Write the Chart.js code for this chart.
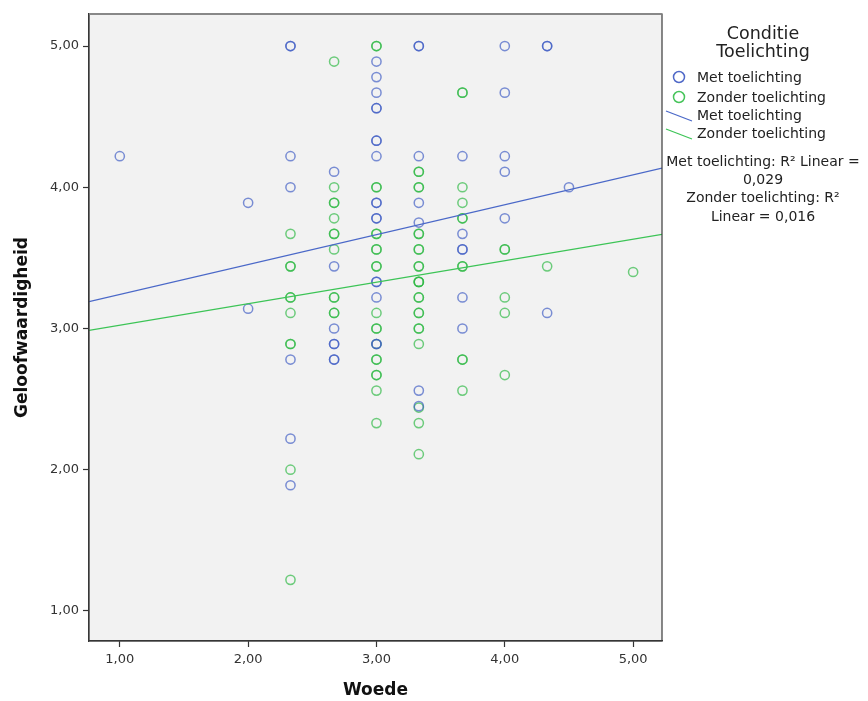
<!DOCTYPE html>
<html>
<head>
<meta charset="utf-8">
<script src="https://cdn.jsdelivr.net/npm/chart.js@4/dist/chart.umd.min.js"></script>
<style>
html,body{margin:0;padding:0;background:#fff;}
canvas{display:block;}
</style>
</head>
<body>
<canvas id="c" width="868" height="701"></canvas>
<script>
// ---- data ----
const seriesNames = ['Met toelichting', 'Zonder toelichting'];
const r2Values = ['0,029', '0,016'];
const xTicks = [1, 2, 3, 4, 5];
const yTicks = [1, 2, 3, 4, 5];

const metX = [1.00, 2.00, 2.00,
  2.33, 2.33, 2.33, 2.33, 2.33, 2.33, 2.33,
  2.67, 2.67, 2.67, 2.67, 2.67, 2.67, 2.67,
  3.00, 3.00, 3.00, 3.00, 3.00, 3.00, 3.00, 3.00, 3.00, 3.00, 3.00, 3.00, 3.00, 3.00, 3.00, 3.00, 3.00,
  3.33, 3.33, 3.33, 3.33, 3.33, 3.33, 3.33,
  3.67, 3.67, 3.67, 3.67, 3.67, 3.67,
  4.00, 4.00, 4.00, 4.00, 4.00,
  4.33, 4.33, 4.33,
  4.50];
const metY = [4.22, 3.89, 3.14,
  5.00, 5.00, 4.22, 4.00, 2.78, 2.22, 1.89,
  4.11, 3.44, 3.00, 2.89, 2.89, 2.78, 2.78,
  4.89, 4.78, 4.67, 4.56, 4.56, 4.33, 4.33, 4.22, 3.89, 3.89, 3.78, 3.78, 3.33, 3.33, 3.22, 2.89, 2.89,
  5.00, 5.00, 4.22, 3.89, 3.75, 2.56, 2.45,
  4.22, 3.67, 3.56, 3.56, 3.22, 3.00,
  5.00, 4.67, 4.22, 4.11, 3.78,
  5.00, 5.00, 3.11,
  4.00];

const zonderX = [
  2.33, 2.33, 2.33, 2.33, 2.33, 2.33, 2.33, 2.33, 2.33, 2.33,
  2.67, 2.67, 2.67, 2.67, 2.67, 2.67, 2.67, 2.67, 2.67, 2.67, 2.67, 2.67,
  3.00, 3.00, 3.00, 3.00, 3.00, 3.00, 3.00, 3.00, 3.00, 3.00, 3.00, 3.00, 3.00, 3.00, 3.00, 3.00, 3.00, 3.00, 3.00, 3.00,
  3.33, 3.33, 3.33, 3.33, 3.33, 3.33, 3.33, 3.33, 3.33, 3.33, 3.33, 3.33, 3.33, 3.33, 3.33, 3.33, 3.33, 3.33, 3.33, 3.33, 3.33, 3.33, 3.33,
  3.67, 3.67, 3.67, 3.67, 3.67, 3.67, 3.67, 3.67, 3.67, 3.67, 3.67,
  4.00, 4.00, 4.00, 4.00, 4.00,
  4.33,
  5.00];
const zonderY = [
  3.67, 3.44, 3.44, 3.22, 3.22, 3.11, 2.89, 2.89, 2.00, 1.22,
  4.89, 4.00, 3.89, 3.89, 3.78, 3.67, 3.67, 3.56, 3.22, 3.22, 3.11, 3.11,
  5.00, 5.00, 4.00, 4.00, 3.67, 3.67, 3.56, 3.56, 3.44, 3.44, 3.11, 3.00, 3.00, 2.89, 2.78, 2.78, 2.67, 2.67, 2.56, 2.33,
  4.11, 4.11, 4.00, 4.00, 3.67, 3.67, 3.56, 3.56, 3.44, 3.44, 3.33, 3.33, 3.33, 3.22, 3.22, 3.11, 3.11, 3.00, 3.00, 2.89, 2.44, 2.33, 2.11,
  4.67, 4.67, 4.00, 3.89, 3.78, 3.78, 3.44, 3.44, 2.78, 2.78, 2.56,
  3.56, 3.56, 3.22, 3.11, 2.67,
  3.44,
  3.40];

// fitted regression lines, evaluated at the axis ends
const fitX = [0.76, 5.225];
const metFit = [3.19, 4.135];
const zonderFit = [2.986, 3.667];

// ---- styling ----
const BLUE = 'rgba(62, 92, 196, 0.68)';
const GREEN = 'rgba(44, 184, 66, 0.68)';
const BLUE_LINE = 'rgb(74, 104, 200)';
const GREEN_LINE = 'rgb(60, 196, 86)';
const FONT = "'DejaVu Sans', sans-serif";

const pts = (xs, ys) => xs.map((x, i) => ({x: x, y: ys[i]}));

const bgPlugin = {
  id: 'plotbg',
  beforeDraw(chart) {
    const a = chart.chartArea, ctx = chart.ctx;
    ctx.save();
    ctx.fillStyle = '#F2F2F2';
    ctx.fillRect(a.left, a.top, a.right - a.left, a.bottom - a.top);
    ctx.restore();
  },
  afterDraw(chart) {
    const a = chart.chartArea, ctx = chart.ctx;
    ctx.save();
    ctx.strokeStyle = '#3a3a3a';
    ctx.lineWidth = 1.2;
    ctx.strokeRect(a.left, a.top, a.right - a.left, a.bottom - a.top);
    ctx.strokeStyle = '#8a8a8a';
    ctx.lineWidth = 1.6;
    ctx.beginPath(); ctx.moveTo(a.left, a.top); ctx.lineTo(a.right, a.top); ctx.stroke();

    // legend
    const cx = 763;
    ctx.fillStyle = '#222';
    ctx.textAlign = 'center';
    ctx.textBaseline = 'middle';
    ctx.font = '17.5px ' + FONT;
    ctx.fillText('Conditie', cx, 34);
    ctx.fillText('Toelichting', cx, 52);

    ctx.font = '14px ' + FONT;
    ctx.textAlign = 'left';
    ctx.lineWidth = 1.5;
    ctx.strokeStyle = 'rgb(80,105,200)';
    ctx.beginPath(); ctx.arc(679, 77, 5.5, 0, Math.PI * 2); ctx.stroke();
    ctx.fillText(seriesNames[0], 697, 78);
    ctx.strokeStyle = 'rgb(70,196,90)';
    ctx.beginPath(); ctx.arc(679, 97, 5.5, 0, Math.PI * 2); ctx.stroke();
    ctx.fillText(seriesNames[1], 697, 98);
    ctx.lineWidth = 1.2;
    ctx.strokeStyle = BLUE_LINE;
    ctx.beginPath(); ctx.moveTo(666, 111); ctx.lineTo(692, 121); ctx.stroke();
    ctx.fillText(seriesNames[0], 697, 116);
    ctx.strokeStyle = GREEN_LINE;
    ctx.beginPath(); ctx.moveTo(666, 129); ctx.lineTo(692, 139); ctx.stroke();
    ctx.fillText(seriesNames[1], 697, 134);

    ctx.textAlign = 'center';
    ctx.fillText(seriesNames[0] + ': R\u00B2 Linear =', cx, 162);
    ctx.fillText(r2Values[0], cx, 180);
    ctx.fillText(seriesNames[1] + ': R\u00B2', cx, 198);
    ctx.fillText('Linear = ' + r2Values[1], cx, 217);
    ctx.restore();
  }
};

const fmt = v => v.toFixed(2).replace('.', ',');

new Chart(document.getElementById('c'), {
  type: 'scatter',
  data: {
    datasets: [
      {label: seriesNames[0] + ' fit', data: pts(fitX, metFit), showLine: true, pointRadius: 0,
       borderColor: BLUE_LINE, borderWidth: 1.2, fill: false},
      {label: seriesNames[1] + ' fit', data: pts(fitX, zonderFit), showLine: true, pointRadius: 0,
       borderColor: GREEN_LINE, borderWidth: 1.2, fill: false},
      {label: seriesNames[0], data: pts(metX, metY), pointRadius: 4.6, pointBorderWidth: 1.5,
       borderColor: BLUE, backgroundColor: 'rgba(0,0,0,0)', pointHoverRadius: 4.6},
      {label: seriesNames[1], data: pts(zonderX, zonderY), pointRadius: 4.6, pointBorderWidth: 1.5,
       borderColor: GREEN, backgroundColor: 'rgba(0,0,0,0)', pointHoverRadius: 4.6}
    ]
  },
  options: {
    responsive: false,
    animation: false,
    devicePixelRatio: 1,
    layout: {padding: {top: 14, right: 206, left: 0, bottom: 0}},
    plugins: {legend: {display: false}, tooltip: {enabled: false}},
    scales: {
      x: {
        type: 'linear', min: 0.76, max: 5.225,
        afterFit(s) { s.height = 60; },
        afterBuildTicks(s) { s.ticks = xTicks.map(v => ({value: v})); },
        grid: {drawOnChartArea: false, drawTicks: true, tickLength: 6, tickColor: '#333', tickWidth: 1.2},
        border: {display: true, color: '#333', width: 1.2},
        ticks: {font: {family: FONT, size: 13}, color: '#333', padding: 5, maxRotation: 0,
                callback: v => fmt(v)},
        title: {display: true, text: 'Woede', font: {family: FONT, size: 17, weight: 'bold'},
                color: '#111', padding: {top: 0, bottom: 0}}
      },
      y: {
        type: 'linear', min: 0.787, max: 5.227,
        afterFit(s) { s.width = 89; },
        afterBuildTicks(s) { s.ticks = yTicks.map(v => ({value: v})); },
        grid: {drawOnChartArea: false, drawTicks: true, tickLength: 6, tickColor: '#333', tickWidth: 1.2},
        border: {display: true, color: '#333', width: 1.2},
        ticks: {font: {family: FONT, size: 13}, color: '#333', padding: 4,
                callback: v => fmt(v)},
        title: {display: true, text: 'Geloofwaardigheid', font: {family: FONT, size: 17, weight: 'bold'},
                color: '#111', padding: {top: 12, bottom: 0}}
      }
    }
  },
  plugins: [bgPlugin]
});
</script>
</body>
</html>
